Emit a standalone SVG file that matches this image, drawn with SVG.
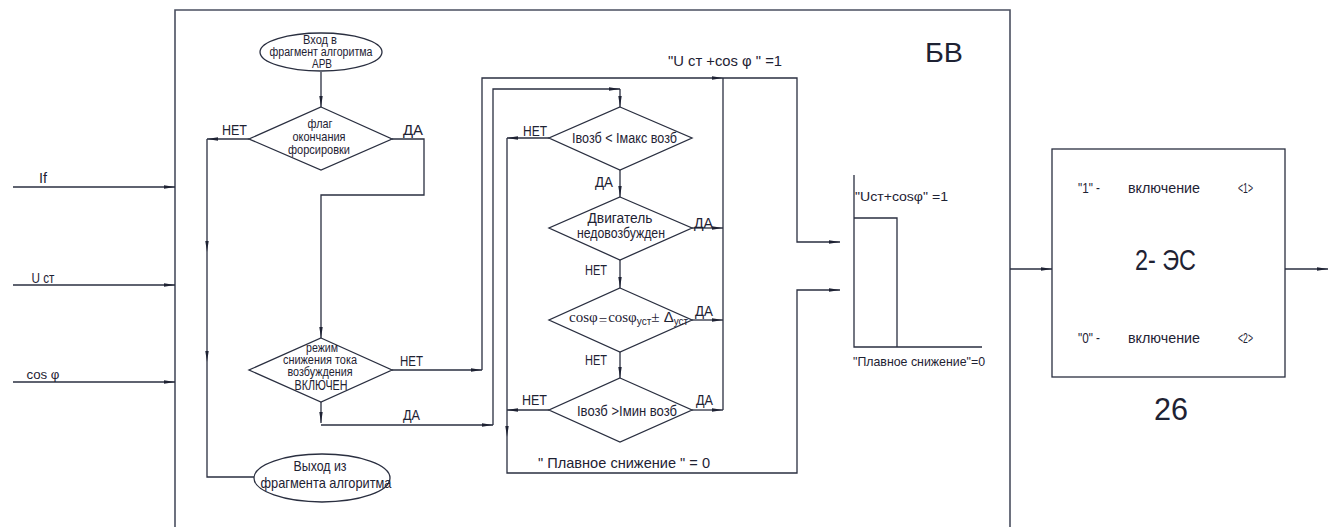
<svg xmlns="http://www.w3.org/2000/svg" width="1335" height="527" viewBox="0 0 1335 527">
<defs>
<marker id="ar" markerUnits="userSpaceOnUse" markerWidth="12" markerHeight="6" refX="11" refY="3" orient="auto">
<path d="M0,1.3 L11,3 L0,4.7 Z" fill="#1e2233"/>
</marker>
</defs>
<style>
.ln{fill:none;stroke:#2a2f40;stroke-width:1.3}
.fr{fill:none;stroke:#4a4f60;stroke-width:1.6}
.sh{fill:#fff;stroke:#2a2f40;stroke-width:1.3}
.a{marker-end:url(#ar)}
text{font-family:"Liberation Sans",Arial,sans-serif;fill:#1e2233;font-size:13px}
.c{text-anchor:middle}
.s12{font-size:12px}
.s14{font-size:14px}
.s15{font-size:15px}
.serif{font-family:"Liberation Serif","Times New Roman",serif}
</style>
<rect width="1335" height="527" fill="#fff"/>
<path class="fr" d="M175,527 V10 H1010 V527"/>
<text x="944" y="62" class="c" style="font-size:27px" textLength="38" lengthAdjust="spacingAndGlyphs">БВ</text>

<g id="connectors">
<path class="ln a" d="M13,187 H175"/>
<path class="ln a" d="M13,285 H175"/>
<path class="ln a" d="M13,382 H175"/>
<path class="ln a" d="M321,72 V107"/>
<path class="ln a" d="M249,139 H207"/>
<path class="ln a" d="M207,139 V252"/>
<path class="ln a" d="M207,252 V362"/>
<path class="ln" d="M207,362 V477 H254"/>
<path class="ln a" d="M392,139 H424 V195 H321 V338"/>
<path class="ln a" d="M392,370 H482"/>
<path class="ln a" d="M482,370 V78 H723"/>
<path class="ln a" d="M723,78 H797 V242 H840"/>
<path class="ln a" d="M321,402 V423"/>
<path class="ln a" d="M321,425 H493"/>
<path class="ln a" d="M493,425 V89 H620"/>
<path class="ln a" d="M620,89 V107"/>
<path class="ln a" d="M620,170 V197"/>
<path class="ln a" d="M620,260 V288"/>
<path class="ln a" d="M620,352 V378"/>
<path class="ln a" d="M549,138 H507"/>
<path class="ln a" d="M549,410 H507"/>
<path class="ln a" d="M507,138 V437"/>
<path class="ln a" d="M507,437 V473 H797 V290 H840"/>
<path class="ln" d="M723,78 V410"/>
<path class="ln a" d="M692,228 H723"/>
<path class="ln a" d="M692,320 H723"/>
<path class="ln a" d="M692,410 H723"/>
<path class="ln a" d="M1010,269 H1052"/>
<path class="ln a" d="M1285,269 H1328"/>
</g>

<g id="labels">
<text x="43" y="183" class="c s14" textLength="8" lengthAdjust="spacingAndGlyphs">If</text>
<text x="43" y="283" class="c s14" textLength="23" lengthAdjust="spacingAndGlyphs">U ст</text>
<text x="43" y="379" class="c" textLength="33" lengthAdjust="spacingAndGlyphs">cos  φ</text>
<text x="222" y="135" class="s14" textLength="25" lengthAdjust="spacingAndGlyphs">НЕТ</text>
<text x="403" y="135" class="s14" textLength="20" lengthAdjust="spacingAndGlyphs">ДА</text>
<text x="400" y="366" class="s14" textLength="23" lengthAdjust="spacingAndGlyphs">НЕТ</text>
<text x="403" y="420" class="s14" textLength="17" lengthAdjust="spacingAndGlyphs">ДА</text>
<text x="523" y="136" class="s14" textLength="24" lengthAdjust="spacingAndGlyphs">НЕТ</text>
<text x="595" y="187" class="s14" textLength="18" lengthAdjust="spacingAndGlyphs">ДА</text>
<text x="694" y="228" class="s14" textLength="19" lengthAdjust="spacingAndGlyphs">ДА</text>
<text x="585" y="275" class="s14" textLength="22" lengthAdjust="spacingAndGlyphs">НЕТ</text>
<text x="695" y="316" class="s14" textLength="18" lengthAdjust="spacingAndGlyphs">ДА</text>
<text x="585" y="365" class="s14" textLength="22" lengthAdjust="spacingAndGlyphs">НЕТ</text>
<text x="522" y="405" class="s14" textLength="25" lengthAdjust="spacingAndGlyphs">НЕТ</text>
<text x="696" y="405" class="s14" textLength="17" lengthAdjust="spacingAndGlyphs">ДА</text>
<text x="538" y="468" class="s15" textLength="172" lengthAdjust="spacingAndGlyphs">"   Плавное снижение   " = 0</text>
<text x="668" y="66" class="s14" textLength="114" lengthAdjust="spacingAndGlyphs">"U  ст  +cos  φ  " =1</text>
</g>

<g id="start">
<ellipse class="sh" cx="321" cy="52" rx="61" ry="19"/>
<text x="320" y="44" class="c s12" textLength="34" lengthAdjust="spacingAndGlyphs">Вход в</text>
<text x="321" y="56" class="c s12" textLength="103" lengthAdjust="spacingAndGlyphs">фрагмент алгоритма</text>
<text x="322" y="68" class="c s12" textLength="20" lengthAdjust="spacingAndGlyphs">АРВ</text>
</g>

<g id="d1">
<path class="sh" d="M321,107 L392,139 L321,170 L249,139 Z"/>
<text x="320" y="128" class="c" textLength="25" lengthAdjust="spacingAndGlyphs">флаг</text>
<text x="319" y="141" class="c" textLength="53" lengthAdjust="spacingAndGlyphs">окончания</text>
<text x="319" y="154" class="c" textLength="62" lengthAdjust="spacingAndGlyphs">форсировки</text>
</g>

<g id="d2">
<path class="sh" d="M321,338 L392,370 L321,402 L249,370 Z"/>
<text x="322" y="352" class="c s12" textLength="32" lengthAdjust="spacingAndGlyphs">режим</text>
<text x="320" y="364" class="c s12" textLength="74" lengthAdjust="spacingAndGlyphs">снижения тока</text>
<text x="320" y="376" class="c s12" textLength="65" lengthAdjust="spacingAndGlyphs">возбуждения</text>
<text x="321" y="390" class="c s14" textLength="53" lengthAdjust="spacingAndGlyphs">ВКЛЮЧЕН</text>
</g>

<g id="end">
<ellipse class="sh" cx="322" cy="478" rx="68" ry="24"/>
<text x="320" y="471" class="c s15" textLength="53" lengthAdjust="spacingAndGlyphs">Выход из</text>
<text x="326" y="488" class="c s15" textLength="131" lengthAdjust="spacingAndGlyphs">фрагмента алгоритма</text>
</g>

<g id="d3">
<path class="sh" d="M620,107 L692,138 L620,170 L549,138 Z"/>
<text x="572" y="143" class="s14" textLength="105" lengthAdjust="spacingAndGlyphs">Iвозб &lt; Iмакс возб</text>
</g>

<g id="d4">
<path class="sh" d="M620,197 L692,228 L620,260 L549,228 Z"/>
<text x="620" y="223" class="c s14" textLength="65" lengthAdjust="spacingAndGlyphs">Двигатель</text>
<text x="621" y="238" class="c s14" textLength="88" lengthAdjust="spacingAndGlyphs">недовозбужден</text>
</g>

<g id="d5">
<path class="sh" d="M620,288 L692,320 L620,352 L549,320 Z"/>
<text x="569" y="322" class="serif" style="font-size:15px">cosφ<tspan dy="3" dx="1">=</tspan><tspan dy="-3" dx="1">cosφ</tspan><tspan dy="3" style="font-size:10px;font-family:'Liberation Sans',sans-serif">уст</tspan><tspan dy="-3">±</tspan><tspan style="font-family:'Liberation Sans',sans-serif"> Δ</tspan><tspan dy="3" style="font-size:10px;font-family:'Liberation Sans',sans-serif">уст</tspan></text>
</g>

<g id="d6">
<path class="sh" d="M620,378 L692,410 L620,442 L549,410 Z"/>
<text x="577" y="416" class="s15" textLength="100" lengthAdjust="spacingAndGlyphs">Iвозб &gt;Iмин возб</text>
</g>

<g id="graph">
<path class="ln" d="M854,175 V347 H982"/>
<path class="ln" d="M854,218 H897 V347"/>
<text x="855" y="201" textLength="93" lengthAdjust="spacingAndGlyphs">"Uст+cosφ" =1</text>
<text x="853" y="366" textLength="132" lengthAdjust="spacingAndGlyphs">"Плавное снижение"=0</text>
</g>

<g id="es">
<rect class="sh" x="1052" y="149" width="233" height="228"/>
<text x="1078" y="193" class="s15" textLength="22" lengthAdjust="spacingAndGlyphs">"1" -</text>
<text x="1128" y="193" class="s15" textLength="72" lengthAdjust="spacingAndGlyphs">включение</text>
<text x="1238" y="193" class="s15" textLength="15" lengthAdjust="spacingAndGlyphs">&lt;1&gt;</text>
<text x="1135" y="270" style="font-size:30px" textLength="61" lengthAdjust="spacingAndGlyphs">2- ЭС</text>
<text x="1078" y="343" class="s15" textLength="22" lengthAdjust="spacingAndGlyphs">"0" -</text>
<text x="1128" y="343" class="s15" textLength="72" lengthAdjust="spacingAndGlyphs">включение</text>
<text x="1238" y="343" class="s15" textLength="15" lengthAdjust="spacingAndGlyphs">&lt;2&gt;</text>
<text x="1171" y="420" class="c" style="font-size:31px" textLength="34" lengthAdjust="spacingAndGlyphs">26</text>
</g>
</svg>
